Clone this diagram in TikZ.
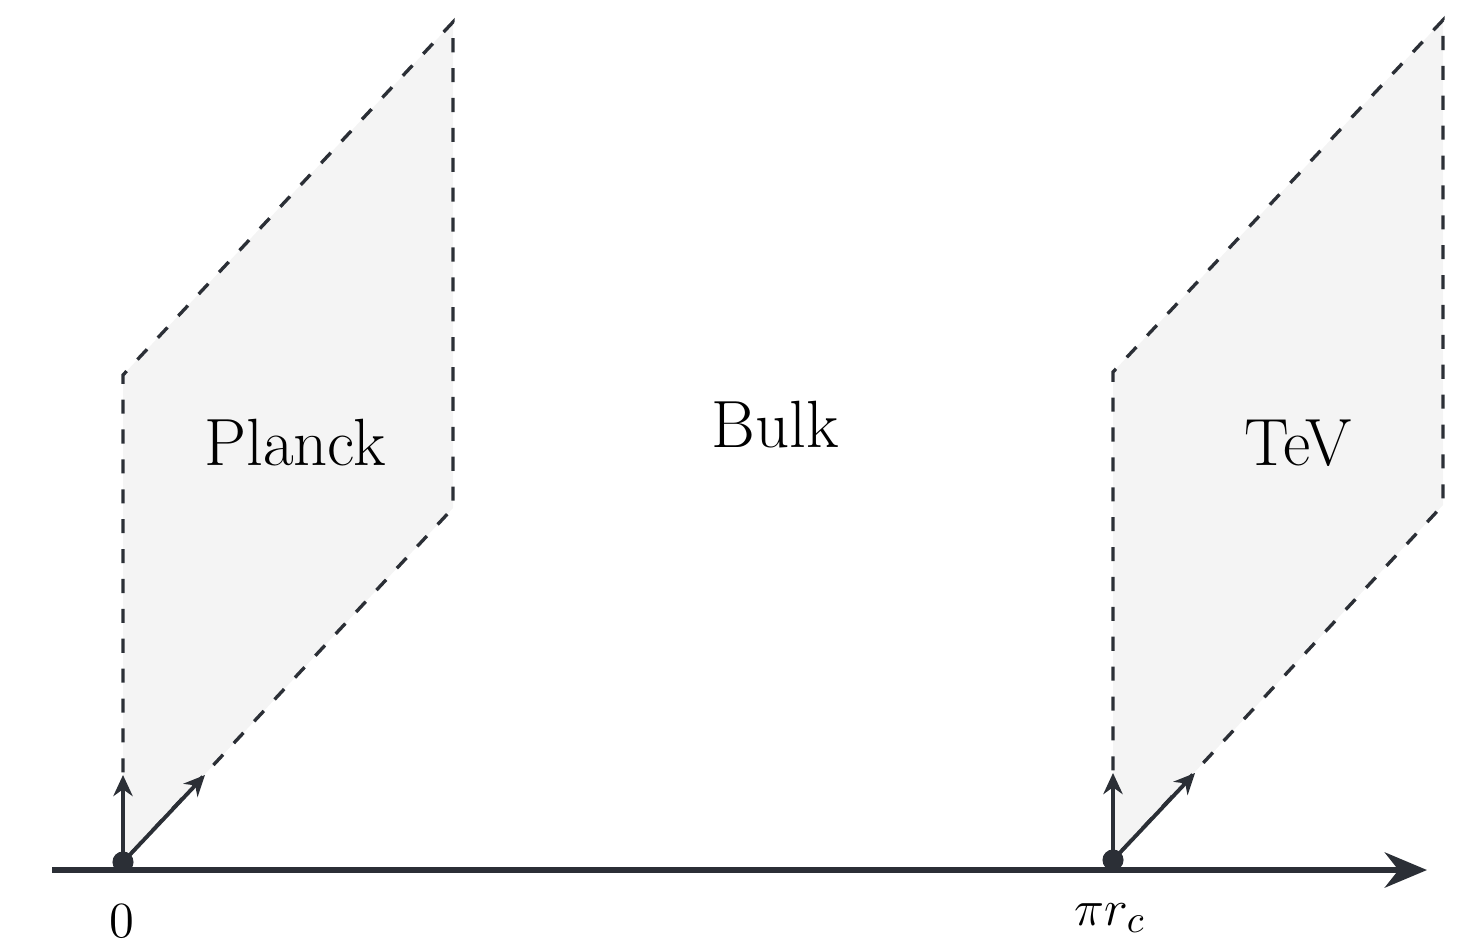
\documentclass[tikz,border=0pt]{standalone}
\usetikzlibrary{arrows.meta, positioning}
\definecolor{ink}{HTML}{2B2F36}
\definecolor{branefill}{HTML}{F4F4F4}
\tikzset{
  brane/.style={draw=ink,fill=branefill,line width=0.95pt,dash pattern=on 4pt off 4.5pt},
  axisline/.style={draw=ink,line width=1.7pt,-{Stealth[length=12pt,width=10pt]}},
  basis/.style={draw=ink,line width=1.1pt,-{Stealth[length=6pt,width=5.5pt]}},
  dot/.style={circle,fill=ink,inner sep=0pt,minimum size=6pt},
  branetext/.style={font=\fontsize{19}{23}\selectfont,text=black},
  ticktext/.style={font=\fontsize{15.5}{18}\selectfont,text=black,inner sep=0.5pt}
}
\begin{document}
\begin{tikzpicture}[x=0.01cm, y=-0.01cm]
\useasboundingbox (0,0) rectangle (1466,947);
% Planck brane at 0
\coordinate (pa) at (123,862);
\coordinate (pb) at (123,375);
\coordinate (pc) at (453,22);
\coordinate (pd) at (453,508);
\draw[brane] (pa) -- (pb) -- (pc) -- (pd) -- cycle;
% TeV brane at pi r_c
\coordinate (ta) at (1113,860);
\coordinate (tb) at (1113,372);
\coordinate (tc) at (1443,20);
\coordinate (td) at (1443,505);
\draw[brane] (ta) -- (tb) -- (tc) -- (td) -- cycle;
% extra dimension
\coordinate (ystart) at (52,870);
\coordinate (yend) at (1427,870);
\draw[axisline] (ystart) -- (yend);
\node[dot] (p0) at (pa) {};
\node[dot] (p1) at (ta) {};
\coordinate (p0up) at (123,775);
\coordinate (p0in) at (205,775);
\coordinate (p1up) at (1113,773);
\coordinate (p1in) at (1195,773);
\draw[basis] (p0.center) -- (p0up);
\draw[basis] (p0.center) -- (p0in);
\draw[basis] (p1.center) -- (p1up);
\draw[basis] (p1.center) -- (p1in);
\node[branetext] (planck) at (295,443) {Planck};
\node[branetext] (bulk) at (775,425) {Bulk};
\node[branetext] (tev) at (1298,443) {TeV};
\node[ticktext] (zero) at (122,921) {$0$};
\node[ticktext] (pirc) at (1110,918) {$\pi r_c$};
\end{tikzpicture}
\end{document}
